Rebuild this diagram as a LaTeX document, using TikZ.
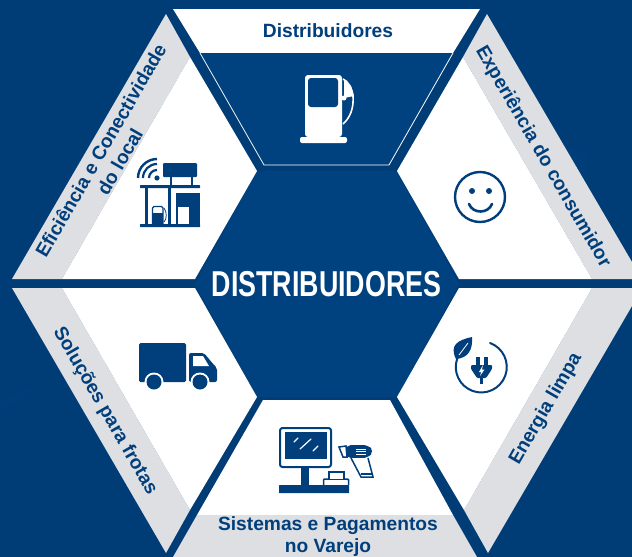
\documentclass[tikz,border=0pt]{standalone}
\usepackage{fontspec}
\setmainfont{Liberation Sans}
\definecolor{bgblue}{HTML}{003C76}
\definecolor{hexblue}{HTML}{00417F}
\definecolor{navy}{HTML}{003F7C}
\definecolor{bandgrey}{HTML}{DEDFE3}
\tikzset{
  greyband/.style={fill=bandgrey,draw=none},
  whitepanel/.style={fill=white,draw=none},
  label/.style={font=\bfseries\fontsize{19.2}{22}\selectfont,text=navy,align=center,inner sep=0pt},
}
\begin{document}
\begin{tikzpicture}[x=1pt,y=-1pt]
\useasboundingbox (0,0) rectangle (632,557);
\fill[bgblue] (0,0) rectangle (632,557);
% faint background shapes
\fill[hexblue,opacity=.35] (0,400) -- (65,372) -- (0,410) -- cycle;
\fill[hexblue,opacity=.4] (540,140) -- (588,152) -- (588,240) -- (520,200) -- cycle;
% central hexagon
\fill[hexblue] (257,171) -- (397,171) -- (459,284) -- (397,397) -- (257,397) -- (195,284) -- cycle;
% top panel
\fill[whitepanel] (173,9) -- (480,9) -- (453,53) -- (200,53) -- cycle;
\fill[hexblue] (200,53) -- (453,53) -- (389,165) -- (264,165) -- cycle;
\draw[white,line width=.8pt] (200,53) -- (264,165) -- (389,165) -- (453,53);
% upper left
\fill[greyband] (166,14) -- (190,57) -- (62,279) -- (12,279) -- cycle;
\fill[whitepanel] (190,57) -- (257,171) -- (195,279) -- (62,279) -- cycle;
% upper right
\fill[greyband] (487,14) -- (632,262) -- (632,279) -- (592,279) -- (463,57) -- cycle;
\fill[whitepanel] (463,57) -- (592,279) -- (459,279) -- (397,171) -- cycle;
% lower left
\fill[greyband] (12,288) -- (62,288) -- (190,510) -- (166,553) -- cycle;
\fill[whitepanel] (62,288) -- (195,288) -- (257,397) -- (190,510) -- cycle;
% lower right
\fill[greyband] (592,288) -- (632,288) -- (632,306) -- (488,553) -- (464,510) -- cycle;
\fill[whitepanel] (459,288) -- (592,288) -- (464,510) -- (397,397) -- cycle;
% bottom
\fill[whitepanel] (263,400) -- (390,400) -- (453,515) -- (197,515) -- cycle;
\fill[greyband] (197,515) -- (453,515) -- (477,557) -- (173,557) -- cycle;

% labels
\node[label] (top) at (328,31) {Distribuidores};
\node[label,rotate=60] (ul) at (110,156) {Eficiência e Conectividade\\do local};
\node[label,rotate=-60] (ur) at (543,157) {Experiência do consumidor};
\node[label,rotate=-60] (ll) at (105,411) {Soluções para frotas};
\node[label,rotate=60] (lr) at (546,409) {Energia limpa};
\node[label] (bot) at (328,536.5) {Sistemas e Pagamentos\\no Varejo};
\node[font=\bfseries\fontsize{36}{40}\selectfont,text=white,inner sep=0pt,xscale=.745,transform shape] (centre) at (326.5,284) {DISTRIBUIDORES};

% pump icon
\fill[white,rounded corners=3pt] (305,137) -- (305,75) -- (342,75) -- (342,137) -- cycle;
\fill[white,rounded corners=2pt] (300,137) rectangle (347,143);
\fill[hexblue,rounded corners=3pt] (308,78) rectangle (338,107);
\draw[white,line width=1.6pt] (343,79) .. controls (348,81) and (352,88) .. (353,96);
\draw[white,line width=1.6pt] (353,96) .. controls (354,108) and (350,118) .. (343,124);
\fill[white] (344,80) -- (351,86) -- (354,96) -- (344,98) -- cycle;
\fill[white] (344,98) circle (2.5);

% station icon
\fill[navy] (157,178) circle (2.6);
\draw[navy,line width=2.2pt] (157,170) arc (270:180:8);
\draw[navy,line width=2.2pt] (157,164) arc (270:180:14);
\draw[navy,line width=2.4pt] (157,159) arc (270:180:19);
\fill[navy,rounded corners=1pt] (163,163) rectangle (197,177);
\draw[navy,line width=1.6pt] (171,177) -- (171,186) (192,177) -- (192,186);
\fill[navy,rounded corners=.5pt] (140,185) rectangle (200,188);
\fill[navy] (145,188) rectangle (148,225);
\fill[navy] (168,188) rectangle (171,225);
\fill[navy] (176,193) rectangle (200,225);
\fill[white] (178,207) rectangle (189,224);
\fill[navy,rounded corners=.5pt] (140,224) rectangle (200,227);
\draw[navy,line width=1.3pt,rounded corners=1.5pt] (152.5,224) -- (152.5,206.5) -- (163,206.5) -- (163,224);
\fill[navy] (153,213) rectangle (163,224);
\draw[navy,line width=.8pt] (164,208) .. controls (167,212) and (167,219) .. (164,222);

% truck icon
\fill[navy,rounded corners=1.5pt] (139,343) rectangle (186,382);
\fill[navy,rounded corners=2pt] (189,382) -- (189,353) -- (204,353) -- (214,365) -- (217,368) -- (217,382) -- cycle;
\fill[white] (193,356) -- (203,356) -- (209,366) -- (193,366) -- cycle;
\fill[white] (154,382) circle (9.5);
\fill[white] (200,382) circle (9.5);
\fill[navy] (154,382) circle (7.5);
\fill[navy] (200,382) circle (7.5);

% smile icon
\draw[navy,line width=2.4pt] (480,197) circle (25);
\fill[navy] (472,191) circle (3);
\fill[navy] (489,191) circle (3);
\draw[navy,line width=2.6pt,line cap=round] (469,204) .. controls (473,214) and (488,214) .. (492,204);

% plug icon
\draw[navy,line width=2pt,line cap=round] (490,343) arc (-70:200:25.5);
\fill[navy] (456,359) .. controls (449,345) and (458,340) .. (472,337) .. controls (473,350) and (468,358) .. (456,359) -- cycle;
\draw[white,line width=.8pt] (459,355) -- (468,343);
\fill[navy] (476,357) rectangle (479.5,366);
\fill[navy] (484,357) rectangle (487.5,366);
\fill[navy,rounded corners=1pt] (471,365) -- (492,365) -- (492,369) -- (486,378) -- (477,378) -- (471,369) -- cycle;
\fill[navy] (479.8,378) rectangle (483,384);
\fill[white] (483,365) -- (479,372) -- (481.3,372) -- (480,376) -- (484.5,369.5) -- (482,369.5) -- cycle;

% POS icon
\draw[navy,line width=2pt,rounded corners=2.5pt] (280,428) rectangle (331,467);
\fill[navy] (285,432) rectangle (327,459);
\draw[white,line width=1.2pt,line cap=round] (294,442) -- (298,438);
\draw[white,line width=1.2pt,line cap=round] (300,449) -- (311,439);
\draw[white,line width=1.2pt,line cap=round] (313,451) -- (318,446);
\fill[navy] (301,468) rectangle (309,485);
\fill[navy,rounded corners=.5pt] (279,485) rectangle (349,493);
\draw[navy,line width=1.5pt,rounded corners=1pt] (323.5,485) -- (323.5,479) -- (348.5,479) -- (348.5,485);
\draw[navy,line width=1.5pt,fill=white] (329,479) -- (329,472) -- (344,472) -- (344,479);
% scanner
\fill[navy,rounded corners=5pt] (346,445) -- (368,445) -- (374,451) -- (368,458) -- (346,458) -- cycle;
\draw[navy,line width=1.5pt,fill=white] (339,447) -- (346,446) -- (347,457) -- (343,457) -- cycle;
\draw[white,line width=.9pt] (356,449) -- (366,449) (356,451.5) -- (366,451.5) (356,454) -- (366,454);
\draw[navy,line width=1.5pt,fill=white] (351,458) -- (361,477) -- (373,477) -- (368,458);
\draw[navy,line width=1.5pt] (361,474) -- (372,474);
\end{tikzpicture}
\end{document}
